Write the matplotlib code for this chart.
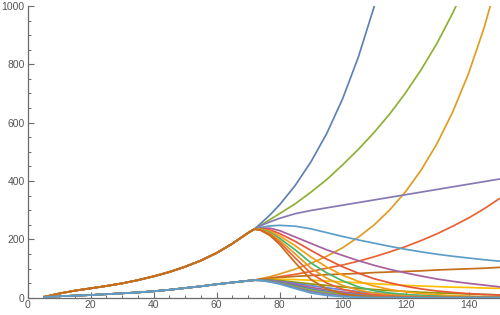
import numpy as np
import matplotlib
matplotlib.use('Agg')
import matplotlib.pyplot as plt
from matplotlib.ticker import MultipleLocator

nan = np.nan

### DATA ###
# Shared part of every curve before the branch point (two families)
x_pre = [5, 10, 15, 20, 25, 30, 35, 40, 45, 50, 55, 60, 65, 70]
upper_pre = [2, 14, 24, 32, 40, 49, 60, 73, 88, 106, 127, 153, 185, 222]
lower_pre = [2, 5, 7, 9, 12, 15, 18, 22, 27, 33, 39, 46, 52, 58]

# Branches after t = 72
x_post = [72, 74, 77, 80, 85, 90, 95, 100, 105, 110, 115, 120, 125, 130, 135, 140, 145, 150]

up1 = [235, 254, 284, 318, 385, 466, 563, 681, 824, 996, 1204, nan, nan, nan, nan, nan, nan, nan]
lo2 = [60, 65, 72, 81, 98, 118, 142, 171, 207, 249, 301, 363, 438, 528, 637, 768, 927, 1118]
up3 = [235, 248, 268, 288, 322, 362, 405, 455, 508, 566, 630, 702, 782, 872, 976, 1093, nan, nan]
lo4 = [60, 63, 67, 72, 80, 90, 101, 112, 125, 140, 157, 175, 196, 219, 245, 273, 305, 341]
up5 = [235, 247, 260, 272, 288, 299, 308, 317, 326, 335, 344, 353, 362, 371, 380, 389, 398, 407]
lo6 = [60, 63, 66, 69, 73, 76, 79, 81, 83, 86, 88, 90, 92, 95, 97, 99, 101, 104]
up7 = [235, 241, 246, 248, 245, 236, 223, 210, 198, 187, 176, 166, 157, 149, 142, 136, 130, 125]
lo8 = [60, 61, 62, 63, 62, 60, 57, 54, 51, 48, 45, 42, 40, 38, 36, 35, 33, 32]
up9 = [235, 238, 238, 230, 208, 186, 164, 145, 127, 111, 97, 85, 74, 64, 56, 49, 43, 37]
lo10 = [60, 61, 61, 59, 53, 47, 42, 37, 32, 28, 24.5, 21.5, 18.5, 16.5, 14.5, 12.5, 11, 9.5]
up11 = [235, 236, 232, 220, 193, 162, 132, 106, 84, 65, 51, 39, 30, 23, 18, 14, 11, 9]
lo12 = [60, 60, 59, 56, 49, 41, 34, 27, 21, 16.5, 13, 10, 7.7, 5.9, 4.6, 3.6, 2.8, 2.3]
up13 = [235, 235, 228, 212, 178, 139, 105, 77, 56, 40, 28, 20, 14, 10, 7, 5, 3.5, 2.5]
lo14 = [60, 60, 58, 54, 45, 35, 27, 19.5, 14, 10, 7, 5, 3.6, 2.6, 1.8, 1.3, 0.9, 0.6]
up15 = [235, 234, 224, 204, 164, 119, 85, 58, 37, 24, 16, 11, 7, 4.5, 3, 2, 1.3, 0.9]
lo16 = [60, 60, 57, 52, 42, 30, 21.5, 14.5, 9.5, 6.2, 4.1, 2.8, 1.8, 1.1, 0.8, 0.5, 0.3, 0.2]
up17 = [235, 233, 221, 197, 150, 101, 67, 42, 26, 16, 10, 6, 3.5, 2, 1.3, 0.8, 0.5, 0.3]
lo18 = [60, 59.5, 56, 50, 38, 25.5, 17, 10.7, 6.6, 4.1, 2.6, 1.5, 0.9, 0.5, 0.3, 0.2, 0.1, 0.1]
up19 = [235, 232, 217, 190, 136, 83, 50, 29, 17, 9.5, 5.5, 3, 1.7, 1, 0.6, 0.3, 0.2, 0.1]
lo20 = [60, 59, 55, 48.5, 35, 21, 12.8, 7.4, 4.3, 2.4, 1.4, 0.8, 0.4, 0.3, 0.2, 0.1, 0, 0]
up21 = [235, 231, 213, 183, 120, 62, 30, 13, 6, 2.5, 1, 0.5, 0.2, 0.1, 0, 0, 0, 0]
lo22 = [60, 59, 54, 47, 31, 16, 7.7, 3.3, 1.5, 0.6, 0.3, 0.1, 0, 0, 0, 0, 0, 0]

# draw order (upper/lower pairs, like the original plot list)
curves = [(up1, 'u'), (lo2, 'l'), (up3, 'u'), (lo4, 'l'), (up5, 'u'), (lo6, 'l'),
          (up7, 'u'), (lo8, 'l'), (up9, 'u'), (lo10, 'l'), (up11, 'u'), (lo12, 'l'),
          (up13, 'u'), (lo14, 'l'), (up15, 'u'), (lo16, 'l'), (up17, 'u'), (lo18, 'l'),
          (up19, 'u'), (lo20, 'l'), (up21, 'u'), (lo22, 'l')]

# Mathematica default palette (cycles after 15)
palette = ['#5E81B5', '#E19C24', '#8FB032', '#EB6235', '#8778B3', '#C56E1A', '#5D9EC7',
           '#FFBF00', '#A5609D', '#929600', '#E95536', '#6685D9', '#F89F13', '#BC5B80',
           '#47B66D']

### PLOT ###
plt.rcParams['font.family'] = ['Liberation Sans', 'DejaVu Sans']
axcol = '#6b6b6b'

fig = plt.figure(figsize=(5, 3.15), dpi=100)
ax = fig.add_axes([0.055, 0.055, 0.945, 0.926])

for i, (ys, grp) in enumerate(curves):
    pre = upper_pre if grp == 'u' else lower_pre
    xx = np.array(x_pre + x_post, dtype=float)
    yy = np.array(pre + ys, dtype=float)
    ax.plot(xx, yy, color=palette[i % 15], lw=1.25, solid_capstyle='butt',
            solid_joinstyle='round', zorder=3)

ax.set_xlim(0, 150)
ax.set_ylim(0, 1000)
for s in ['top', 'right']:
    ax.spines[s].set_visible(False)
for s in ['left', 'bottom']:
    ax.spines[s].set_color(axcol)
    ax.spines[s].set_linewidth(0.9)
    ax.spines[s].set_zorder(1)

ax.xaxis.set_major_locator(MultipleLocator(20))
ax.xaxis.set_minor_locator(MultipleLocator(5))
ax.yaxis.set_major_locator(MultipleLocator(200))
ax.yaxis.set_minor_locator(MultipleLocator(50))
ax.tick_params(which='major', direction='in', length=4, width=0.8, color=axcol,
               labelsize=7.5, labelcolor='#555555', pad=2)
ax.tick_params(which='minor', direction='in', length=2.2, width=0.7, color=axcol)

fig.savefig('out.png', dpi=100)
